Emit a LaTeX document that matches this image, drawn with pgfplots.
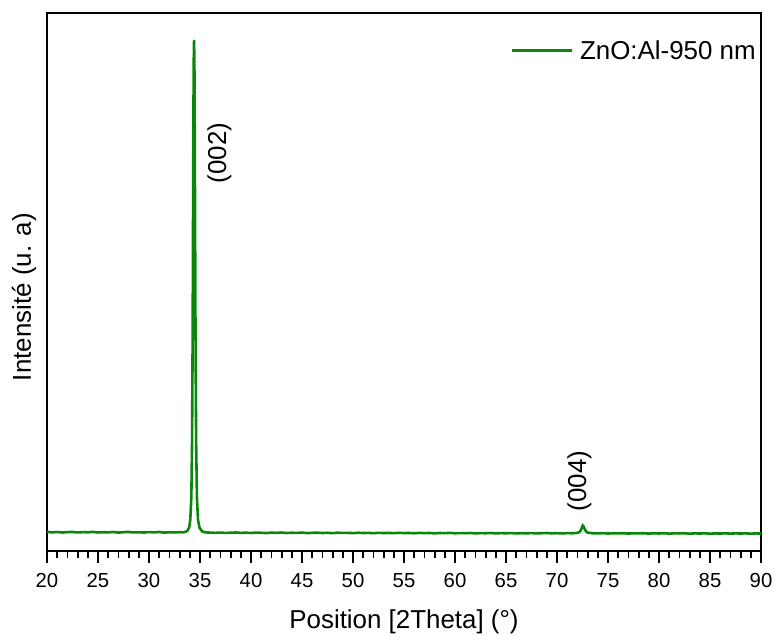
\documentclass[border=0pt]{standalone}
\usepackage{pgfplots}
\pgfplotsset{compat=1.18}
\usepackage{pgfplotstable}
\usepackage{fontspec}
\setmainfont{Liberation Sans}

\definecolor{xrdgreen}{RGB}{10,135,10}

% XRD scan of the ZnO:Al film (2theta in degrees, counts)
\pgfplotstableread{
x y
20.0 575
20.5 560
21.0 570
21.5 555
22.0 568
22.5 572
23.0 558
23.5 566
24.0 561
24.5 574
25.0 556
25.5 565
26.0 560
26.5 570
27.0 553
27.5 566
28.0 572
28.5 558
29.0 562
29.5 555
30.0 568
30.5 560
31.0 571
31.5 552
32.0 563
32.5 557
33.0 566
33.3 560
33.6 575
33.8 620
33.95 720
34.05 950
34.15 1600
34.22 3200
34.28 6500
34.33 11000
34.38 14600
34.42 15330
34.46 14300
34.51 10500
34.56 6500
34.62 3300
34.7 1600
34.8 950
34.95 700
35.2 590
35.5 560
36.0 552
36.5 545
37.0 554
37.5 542
38.0 549
38.5 556
39.0 544
39.5 550
40.0 541
40.5 553
41.0 547
41.5 539
42.0 551
42.5 545
43.0 555
43.5 540
44.0 548
44.5 543
45.0 552
45.5 538
46.0 546
46.5 550
47.0 541
47.5 547
48.0 536
48.5 549
49.0 542
49.5 545
50.0 537
50.5 548
51.0 540
51.5 544
52.0 534
52.5 546
53.0 539
53.5 543
54.0 535
54.5 547
55.0 538
55.5 541
56.0 533
56.5 544
57.0 537
57.5 542
58.0 530
58.5 540
59.0 536
59.5 543
60.0 532
60.5 539
61.0 534
61.5 541
62.0 528
62.5 538
63.0 533
63.5 540
64.0 529
64.5 537
65.0 532
65.5 539
66.0 527
66.5 536
67.0 531
67.5 538
68.0 528
68.5 535
69.0 540
69.5 530
70.0 536
70.5 527
71.0 538
71.5 533
72.0 545
72.2 570
72.35 630
72.45 715
72.52 765
72.6 740
72.7 665
72.85 590
73.0 550
73.5 534
74.0 528
74.5 536
75.0 525
75.5 533
76.0 529
76.5 535
77.0 524
77.5 532
78.0 527
78.5 534
79.0 523
79.5 531
80.0 526
80.5 533
81.0 522
81.5 530
82.0 527
82.5 534
83.0 521
83.5 529
84.0 525
84.5 532
85.0 520
85.5 528
86.0 524
86.5 531
87.0 522
87.5 529
88.0 525
88.5 530
89.0 521
89.5 528
90.0 524
}\xrddata

\begin{document}
\begin{tikzpicture}
\begin{axis}[
  name=xrd,
  scale only axis,
  width=357bp, height=269bp,
  xmin=20, xmax=90,
  ymin=0, ymax=16140,
  axis line style={line width=0.9bp},
  xtick distance=5,
  minor x tick num=4,
  ytick=\empty,
  xtick pos=bottom,
  tick align=outside,
  major tick length=6bp,
  minor tick length=3.5bp,
  every tick/.style={black, line width=0.9bp},
  /pgf/number format/assume math mode=true,
  tick label style={font=\fontsize{10.2}{12}\selectfont},
  xticklabel style={inner sep=1bp, yshift=-3.9bp},
  xlabel={Position [2Theta] (°)},
  ylabel={Intensité (u. a)},
  label style={font=\fontsize{13}{15}\selectfont},
  xlabel style={at={(axis description cs:0.5,0)}, anchor=base, yshift=-38.5bp},
  ylabel style={at={(axis description cs:-0.0322,0.472)}, anchor=center, rotate=0},
  legend style={draw=none, fill=none, inner sep=0pt, column sep=3.5bp,
    nodes={inner sep=0pt, anchor=base west},
    at={(axis description cs:0.6485,0.928)}, anchor=west,
    font=\fontsize{13}{15}\selectfont},
  legend image code/.code={\draw[#1] (0bp,0.45em) -- (30bp,0.45em);},
]
\addplot[xrdgreen, line width=1.3bp] table[x=x, y=y] {\xrddata};
\addlegendentry{ZnO:Al-950 nm}
\node[rotate=90, font=\fontsize{13}{15}\selectfont] at (axis cs:36.9,11940) {(002)};
\node[rotate=90, font=\fontsize{13}{15}\selectfont] at (axis cs:72.2,2100) {(004)};
\end{axis}
\path ([shift={(-23.5bp,-43bp)}]xrd.south west) rectangle ([shift={(8bp,6.5bp)}]xrd.north east);
\end{tikzpicture}
\end{document}
